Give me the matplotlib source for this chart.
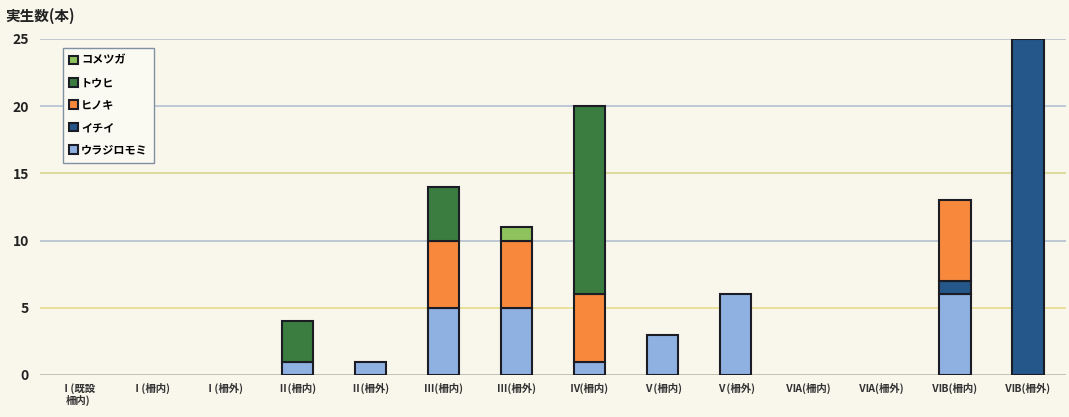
import matplotlib
matplotlib.use("Agg")
import matplotlib.pyplot as plt
import numpy as np

plt.rcParams['font.family'] = ['Noto Sans CJK JP', 'DejaVu Sans']

categories = ["Ⅰ(既設\n柵内)", "Ⅰ(柵内)", "Ⅰ(柵外)", "Ⅱ(柵内)", "Ⅱ(柵外)", "Ⅲ(柵内)", "Ⅲ(柵外)",
              "Ⅳ(柵内)", "Ⅴ(柵内)", "Ⅴ(柵外)", "ⅥA(柵内)", "ⅥA(柵外)", "ⅥB(柵内)", "ⅥB(柵外)"]
# stacked bottom -> top
urajiromomi = [0, 0, 0, 1, 1, 5, 5, 1, 3, 6, 0, 0, 6, 0]
ichii       = [0, 0, 0, 0, 0, 0, 0, 0, 0, 0, 0, 0, 1, 25]
hinoki      = [0, 0, 0, 0, 0, 5, 5, 5, 0, 0, 0, 0, 6, 0]
touhi       = [0, 0, 0, 3, 0, 4, 0, 14, 0, 0, 0, 0, 0, 0]
kometsuga   = [0, 0, 0, 0, 0, 0, 1, 0, 0, 0, 0, 0, 0, 0]

series = [
    ("ウラジロモミ", urajiromomi, "#8fb1e2"),
    ("イチイ", ichii, "#25578a"),
    ("ヒノキ", hinoki, "#f7883c"),
    ("トウヒ", touhi, "#3b7d40"),
    ("コメツガ", kometsuga, "#8ec25c"),
]
yticks = [0, 5, 10, 15, 20, 25]

fig = plt.figure(figsize=(10.69, 4.17), dpi=100)
fig.patch.set_facecolor("#f9f7ec")
ax = fig.add_axes([40/1069, 1-375/417, 1-40/1069 - 3/1069, (375-39)/417])
ax.set_facecolor("#f9f7ec")

grid_colors = ["#b8bca8", "#e6dc8a", "#b4c0d0", "#d8d68e", "#b4c2d4", "#b8c0cc"]
for v, c in zip(yticks, grid_colors):
    ax.axhline(v, color=c, lw=1.2, zorder=0)

x = np.arange(len(categories))
bottom = np.zeros(len(categories))
handles = []
for name, vals, col in series:
    vals = np.array(vals, dtype=float)
    mask = vals > 0
    b = ax.bar(x[mask], vals[mask], bottom=bottom[mask], width=0.43, color=col,
               edgecolor="#1c1c24", linewidth=1.5, zorder=3, label=name)
    handles.append(b)
    bottom += vals

ax.set_xlim(-0.52, len(categories) - 0.48)
ax.set_ylim(0, 25)
ax.set_yticks(yticks)
ax.set_yticklabels([str(v) for v in yticks], fontsize=10, fontweight="bold", color="#222222")
ax.set_xticks(x)
ax.set_xticklabels(categories, fontsize=7.5, fontweight="bold", color="#333333", linespacing=1.1)
ax.tick_params(axis="both", length=0, pad=8)
ax.tick_params(axis="x", pad=6)
for s in ax.spines.values():
    s.set_visible(False)

leg = ax.legend(handles[::-1], [h.get_label() for h in handles[::-1]],
                loc="upper left", bbox_to_anchor=(17/1026, 1-3/336), frameon=True,
                fancybox=False, edgecolor="#8090a0", facecolor="#fbfaf2", framealpha=1,
                prop={"family": ["Noto Sans CJK JP", "DejaVu Sans"], "weight": "bold", "size": 8},
                handlelength=0.8, handleheight=0.8, handletextpad=0.3, labelspacing=0.85,
                borderpad=0.55)
leg.get_frame().set_linewidth(1.0)

fig.text(5/1069, 1-16/417, "実生数(本)", fontsize=10.5, fontweight="bold", va="center", ha="left",
         color="#222222")

fig.savefig("out.png", dpi=100, facecolor=fig.get_facecolor())
